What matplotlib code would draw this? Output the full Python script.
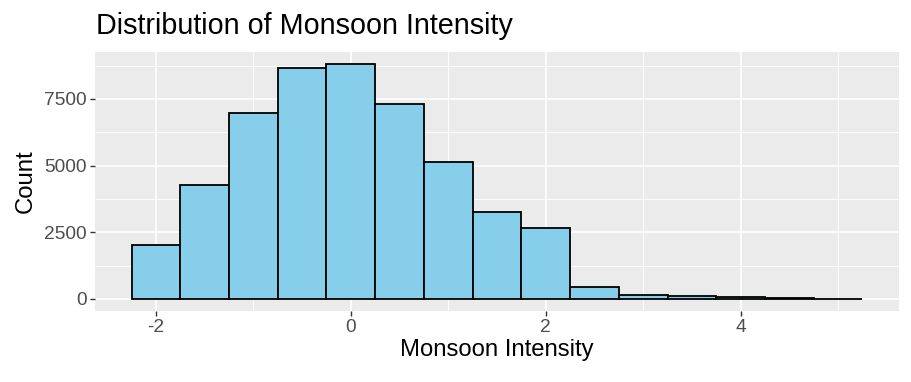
import matplotlib
matplotlib.use("Agg")
import matplotlib.pyplot as plt
import numpy as np

plt.rcParams['font.family'] = ['Liberation Sans', 'DejaVu Sans']
plt.rcParams['axes.unicode_minus'] = False

# centros de los bins y conteos
bin_centers = [-2, -1.5, -1, -0.5, 0, 0.5, 1, 1.5, 2, 2.5, 3, 3.5, 4, 4.5, 5]
counts = [2030, 4280, 6980, 8660, 8820, 7320, 5140, 3270, 2670, 450, 160, 95, 55, 20, 12]
bin_width = 0.5

x_ticks = [-2, 0, 2, 4]
y_ticks = [0, 2500, 5000, 7500]

fig = plt.figure(figsize=(9.12, 3.82), dpi=100)
ax = fig.add_axes([95 / 912, 1 - 310.7 / 382, 804 / 912, 258.7 / 382])
ax.set_facecolor('#EBEBEB')

ax.bar(bin_centers, counts, width=bin_width, color='#87CEEB', edgecolor='black', linewidth=1.3, zorder=3)

ax.set_xticks(x_ticks)
ax.set_yticks(y_ticks)
ax.set_xticks([-3, -1, 1, 3, 5], minor=True)
ax.set_yticks([1250, 3750, 6250, 8750], minor=True)

# limites como ggplot (expansion 5%)
x_lo = bin_centers[0] - bin_width / 2
x_hi = bin_centers[-1] + bin_width / 2
pad = (x_hi - x_lo) * 0.05
ax.set_xlim(x_lo - pad, x_hi + pad)
ymax = max(counts)
ax.set_ylim(-ymax * 0.05, ymax * 1.05)

ax.grid(which='major', color='white', linewidth=1.2, zorder=0)
ax.grid(which='minor', color='white', linewidth=0.6, zorder=0)
ax.tick_params(which='major', length=3.7, pad=2.2, color='#333333', labelsize=13.8, labelcolor='#4D4D4D', width=1)
ax.tick_params(which='minor', length=0)
for s in ax.spines.values():
    s.set_visible(False)
ax.set_axisbelow(True)

ax.set_xlabel('Monsoon Intensity', fontsize=17.2, labelpad=2)
ax.set_ylabel('Count', fontsize=17.2, labelpad=5.5)
fig.text(96 / 912, 1 - 34 / 382, 'Distribution of Monsoon Intensity', fontsize=20.7, ha='left', va='baseline')

fig.savefig('out.png', dpi=100)
